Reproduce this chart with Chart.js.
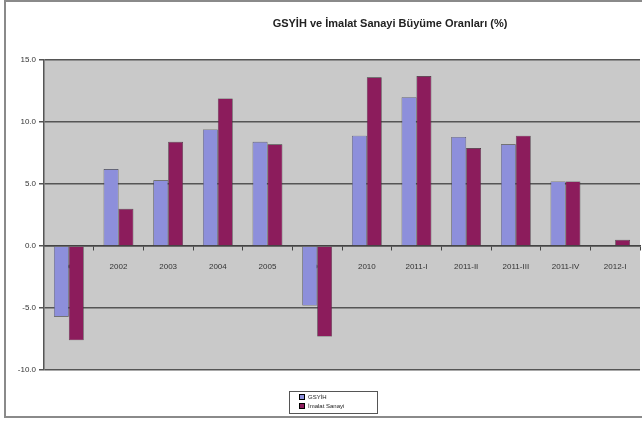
<!DOCTYPE html>
<html>
<head>
<meta charset="utf-8">
<script src="https://cdn.jsdelivr.net/npm/chart.js@4/dist/chart.umd.min.js"></script>
<style>
  html, body { margin: 0; padding: 0; background: #fff; }
  #wrap { width: 642px; height: 423px; }
</style>
</head>
<body>
<div id="wrap"><canvas id="growthChart"></canvas></div>
<script>
/* GSYİH ve İmalat Sanayi Büyüme Oranları */
const periods = ["2001","2002","2003","2004","2005","2009","2010","2011-I","2011-II","2011-III","2011-IV","2012-I"];
const gsyih = [-5.7, 6.2, 5.3, 9.4, 8.4, -4.8, 8.9, 12.0, 8.8, 8.2, 5.2, null];
const imalat = [-7.6, 3.0, 8.4, 11.9, 8.2, -7.3, 13.6, 13.7, 7.9, 8.9, 5.2, 0.5];
const yTicks = [-10, -5, 0, 5, 10, 15];
const seriesNames = ["GSYİH", "İmalat Sanayi"];
const chartTitle = "GSYİH ve İmalat Sanayi Büyüme Oranları (%)";

const blue = "#8d8fdb";
const plum = "#8c1c5c";
const font = "'Liberation Sans', Arial, sans-serif";

/* frame, plot background, title and boxed legend */
const decor = {
  id: "decor",
  beforeDraw(chart) {
    const { ctx, chartArea: a } = chart;
    ctx.save();
    ctx.fillStyle = "#c9c9c9";
    ctx.fillRect(a.left, a.top, a.right - a.left, a.bottom - a.top);
    ctx.strokeStyle = "#8a8a8a";
    ctx.lineWidth = 2;
    ctx.strokeRect(5, 1, 650, 416);
    ctx.restore();
  },
  afterDraw(chart) {
    const { ctx } = chart;
    ctx.save();
    ctx.fillStyle = "#222";
    ctx.font = "bold 11px " + font;
    ctx.textAlign = "center";
    ctx.textBaseline = "middle";
    ctx.fillText(chartTitle, 390, 24);

    // legend box
    ctx.fillStyle = "#fff";
    ctx.fillRect(289, 391, 88, 22);
    ctx.strokeStyle = "#555";
    ctx.lineWidth = 1;
    ctx.strokeRect(289.5, 391.5, 88, 22);
    ctx.font = "6px " + font;
    ctx.textAlign = "left";
    [blue, plum].forEach((c, i) => {
      const y = 397 + i * 9;
      ctx.fillStyle = c;
      ctx.fillRect(299, y - 3, 6, 6);
      ctx.strokeStyle = "#000";
      ctx.strokeRect(299.5, y - 2.5, 5, 5);
      ctx.fillStyle = "#222";
      ctx.fillText(seriesNames[i], 308, y);
    });
    ctx.restore();
  }
};

new Chart(document.getElementById("growthChart"), {
  type: "bar",
  data: {
    labels: periods,
    datasets: [{
      label: seriesNames[0],
      data: gsyih,
      backgroundColor: blue,
      borderColor: "#333",
      borderWidth: 0.6
    }, {
      label: seriesNames[1],
      data: imalat,
      backgroundColor: plum,
      borderColor: "#333",
      borderWidth: 0.6
    }]
  },
  options: {
    responsive: true,
    maintainAspectRatio: false,
    animation: false,
    layout: { padding: { top: 60, bottom: 53, right: 2, left: 0 } },
    plugins: {
      legend: { display: false },
      title: { display: false },
      tooltip: { enabled: false }
    },
    datasets: { bar: { categoryPercentage: 0.6, barPercentage: 1.0 } },
    scales: {
      x: {
        position: { y: 0 },
        z: 1,
        grid: { display: true, drawOnChartArea: false, tickLength: 4, color: "#444", offset: true },
        border: { display: true, color: "#444", width: 1.5 },
        ticks: {
          color: "#333",
          font: { size: 8, family: font },
          maxRotation: 0,
          autoSkip: false,
          padding: 12
        }
      },
      y: {
        min: yTicks[0],
        max: yTicks[yTicks.length - 1],
        afterFit(scale) { scale.width = 44; },
        afterBuildTicks(scale) { scale.ticks = yTicks.map(v => ({ value: v })); },
        grid: { color: "#555", lineWidth: 1.5, tickLength: 5, drawTicks: true },
        border: { display: true, color: "#555", width: 1.5 },
        ticks: {
          color: "#333",
          font: { size: 8, family: font },
          padding: 3,
          callback: v => v.toFixed(1)
        }
      }
    }
  },
  plugins: [decor]
});
</script>
</body>
</html>
